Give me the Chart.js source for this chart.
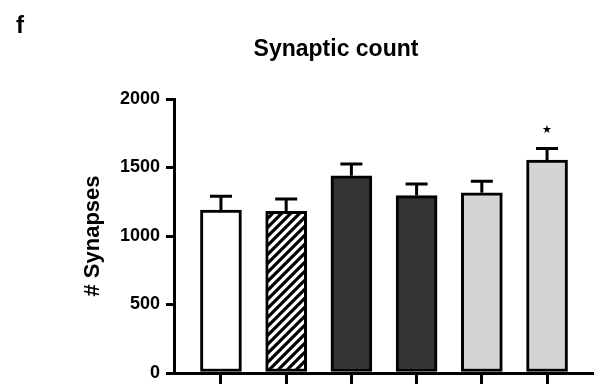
<!DOCTYPE html>
<html>
<head>
<meta charset="utf-8">
<script src="https://cdn.jsdelivr.net/npm/chart.js@4"></script>
<style>
  body { margin: 0; background: #fff; }
  #wrap { position: relative; width: 594px; height: 384px; }
  #panel { position: absolute; left: 16px; top: 11px; font: bold 24px "Liberation Sans", Arial, sans-serif; }
  #title { position: absolute; left: 0; width: 672px; top: 35px; text-align: center; font: bold 23px "Liberation Sans", Arial, sans-serif; }
</style>
</head>
<body>
<div id="wrap">
  <canvas id="synChart" width="594" height="384"></canvas>
  <div id="panel">f</div>
  <div id="title">Synaptic count</div>
</div>
<script>
// values
const groups = ['G1', 'G2', 'G3', 'G4', 'G5', 'G6'];
const synapses = [1190, 1180, 1440, 1295, 1315, 1555];
const sem = [100, 90, 85, 85, 85, 83];
const signif = ['', '', '', '', '', '*'];
const yTicks = [0, 500, 1000, 1500, 2000];

const canvas = document.getElementById('synChart');
const ctx = canvas.getContext('2d');

// diagonal hatch for the second bar
function hatch() {
    const c = document.createElement('canvas');
    c.width = 9; c.height = 9;
    const g = c.getContext('2d');
    g.fillStyle = '#fff';
    g.fillRect(0, 0, 9, 9);
    g.strokeStyle = '#000';
    g.lineWidth = 3.2;
    g.beginPath();
    for (let k = -1; k <= 1; k++) {
        g.moveTo(-2 + k * 9, 11);
        g.lineTo(11 + k * 9, -2);
    }
    g.stroke();
    return ctx.createPattern(c, 'repeat');
}

const fills = ['#ffffff', hatch(), '#333333', '#333333', '#d4d4d4', '#d4d4d4'];

const errorBars = {
    id: 'errorBars',
    afterDatasetsDraw(chart) {
        const c = chart.ctx;
        const xs = chart.scales.x, ys = chart.scales.y;
        c.save();
        c.strokeStyle = '#000';
        c.lineWidth = 3;
        synapses.forEach((v, i) => {
            const x = xs.getPixelForValue(i);
            const y0 = ys.getPixelForValue(v);
            const y1 = ys.getPixelForValue(v + sem[i]);
            c.beginPath();
            c.moveTo(x, y0);
            c.lineTo(x, y1);
            c.moveTo(x - 11, y1);
            c.lineTo(x + 11, y1);
            c.stroke();
            if (signif[i]) {
                c.fillStyle = '#000';
                c.font = '11px "DejaVu Sans"';
                c.textAlign = 'center';
                c.textBaseline = 'middle';
                c.fillText('\u2605', x, y1 - 18);
            }
        });
        c.restore();
    }
};

new Chart(ctx, {
    type: 'bar',
    data: {
        datasets: [{
            label: 'Synapses',
            data: synapses.map((v, i) => ({ x: i, y: v })),
            backgroundColor: fills,
            borderColor: '#000',
            borderWidth: 3,
            borderSkipped: false,
            barThickness: 41
        }]
    },
    options: {
        responsive: false,
        animation: false,
        events: [],
        layout: { padding: { top: 99, right: 0, bottom: 0, left: 0 } },
        plugins: { legend: { display: false }, tooltip: { enabled: false } },
        scales: {
            x: {
                type: 'linear',
                offset: false,
                min: -0.72,
                max: 5.72,
                afterFit: s => { s.height = 11; },
                ticks: { display: false, stepSize: 1, includeBounds: false },
                grid: { offset: false, drawOnChartArea: false, drawTicks: true, tickLength: 11, color: '#000', lineWidth: 3 },
                border: { color: '#000', width: 3 }
            },
            y: {
                min: 0,
                max: 2000,
                afterFit: s => { s.width = 174; s.paddingBottom = 0; s.paddingTop = 0; },
                afterBuildTicks: s => { s.ticks = yTicks.map(v => ({ value: v })); },
                ticks: {
                    padding: 6,
                    color: '#000',
                    callback: v => String(v),
                    font: { family: '"Liberation Sans", Arial, sans-serif', size: 18, weight: 'bold' }
                },
                grid: { drawOnChartArea: false, drawTicks: true, tickLength: 8, color: '#000', lineWidth: 3 },
                border: { color: '#000', width: 3 },
                title: {
                    display: true,
                    text: '# Synapses',
                    color: '#000',
                    padding: { top: 80, bottom: 0 },
                    font: { family: '"Liberation Sans", Arial, sans-serif', size: 22, weight: 'bold' }
                }
            }
        }
    },
    plugins: [errorBars]
});
</script>
</body>
</html>
